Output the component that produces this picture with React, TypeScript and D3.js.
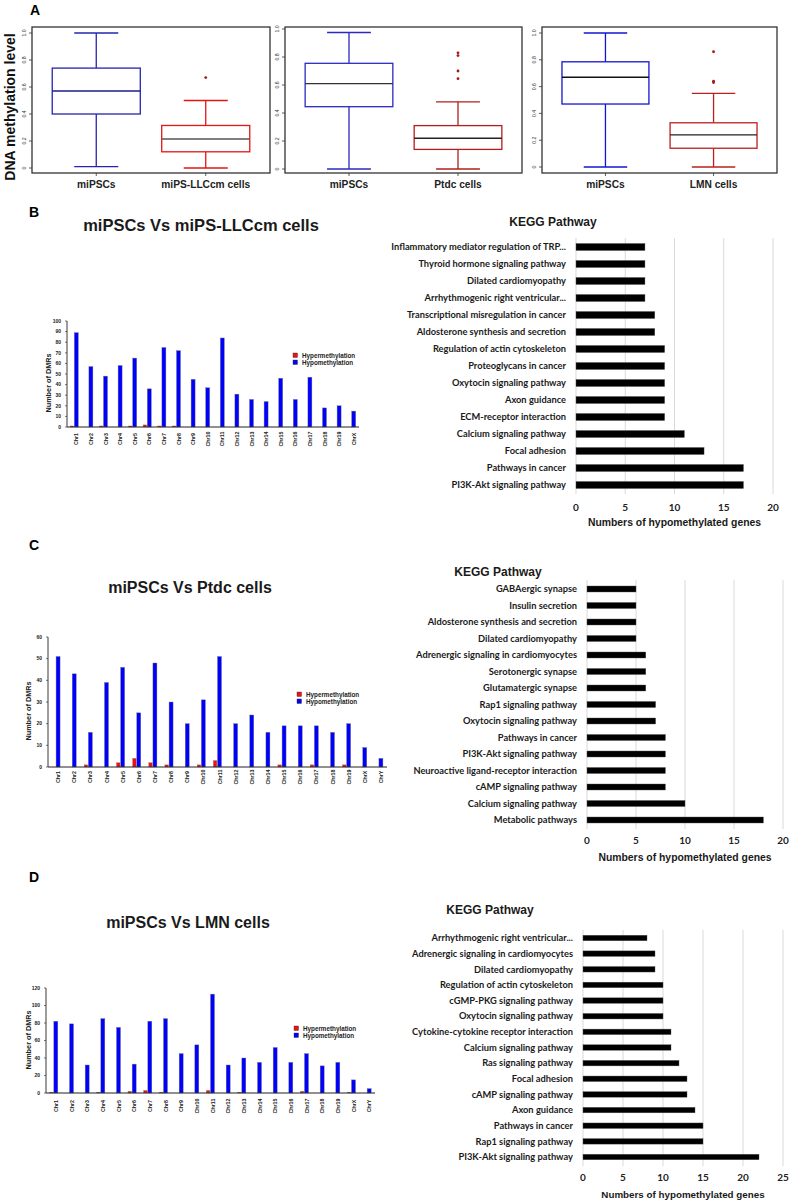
import React from "react";
import * as d3 from "d3";

// ---------- Panel A data ----------
const boxCats1 = ["miPSCs", "miPS-LLCcm cells"];
const boxCats2 = ["miPSCs", "Ptdc cells"];
const boxCats3 = ["miPSCs", "LMN cells"];
// [min, q1, median, q3, max]
const boxStats1 = [[0.01, 0.40, 0.57, 0.74, 1.0], [0.0, 0.12, 0.215, 0.315, 0.50]];
const boxStats2 = [[0.0, 0.445, 0.61, 0.755, 0.975], [0.0, 0.14, 0.22, 0.31, 0.48]];
const boxStats3 = [[0.0, 0.47, 0.67, 0.785, 1.0], [0.0, 0.14, 0.24, 0.33, 0.55]];
const outliers1 = [[], [0.67]];
const outliers2 = [[], [0.83, 0.81, 0.70, 0.645]];
const outliers3 = [[], [0.86, 0.64, 0.63]];
const boxTicks = [0, 0.2, 0.4, 0.6, 0.8, 1.0];
const boxTickLabels = ["0", "0.2", "0.4", "0.6", "0.8", "1.0"];

// ---------- DMR data ----------
const chrB = ["Chr1","Chr2","Chr3","Chr4","Chr5","Chr6","Chr7","Chr8","Chr9","Chr10","Chr11","Chr12","Chr13","Chr14","Chr15","Chr16","Chr17","Chr18","Chr19","ChrX"];
const hyperB = [1,0,1,0,1,2,1,1,0,0,0,0,0,0,0,0,0,0,0,0];
const hypoB = [89,57,48,58,65,36,75,72,45,37,84,31,26,24,46,26,47,18,20,15];
const yTicksB = [0,10,20,30,40,50,60,70,80,90,100];

const chrC = ["Chr1","Chr2","Chr3","Chr4","Chr5","Chr6","Chr7","Chr8","Chr9","Chr10","Chr11","Chr12","Chr13","Chr14","Chr15","Chr16","Chr17","Chr18","Chr19","ChrX","ChrY"];
const hyperC = [0,0,1,0,2,4,2,1,0,1,3,0,0,0,1,0,1,0,1,0,0];
const hypoC = [51,43,16,39,46,25,48,30,20,31,51,20,24,16,19,19,19,16,20,9,4];
const yTicksC = [0,10,20,30,40,50,60];

const chrD = ["Chr1","Chr2","Chr3","Chr4","Chr5","Chr6","Chr7","Chr8","Chr9","Chr10","Chr11","Chr12","Chr13","Chr14","Chr15","Chr16","Chr17","Chr18","Chr19","ChrX","ChrY"];
const hyperD = [1,0,0,1,0,2,3,1,0,0,3,0,1,0,0,0,2,0,0,1,0];
const hypoD = [82,79,32,85,75,33,82,85,45,55,113,32,40,35,52,35,45,31,35,15,5];
const yTicksD = [0,20,40,60,80,100,120];

// ---------- KEGG data ----------
const keggB = ["Inflammatory mediator regulation of TRP...","Thyroid hormone signaling pathway","Dilated cardiomyopathy","Arrhythmogenic right ventricular...","Transcriptional misregulation in cancer","Aldosterone synthesis and secretion","Regulation of actin cytoskeleton","Proteoglycans in cancer","Oxytocin signaling pathway","Axon guidance","ECM-receptor interaction","Calcium signaling pathway","Focal adhesion","Pathways in cancer","PI3K-Akt signaling pathway"];
const keggBValues = [7,7,7,7,8,8,9,9,9,9,9,11,13,17,17];
const keggBTicks = [0,5,10,15,20];

const keggC = ["GABAergic synapse","Insulin secretion","Aldosterone synthesis and secretion","Dilated cardiomyopathy","Adrenergic signaling in cardiomyocytes","Serotonergic synapse","Glutamatergic synapse","Rap1 signaling pathway","Oxytocin signaling pathway","Pathways in cancer","PI3K-Akt signaling pathway","Neuroactive ligand-receptor interaction","cAMP signaling pathway","Calcium signaling pathway","Metabolic pathways"];
const keggCValues = [5,5,5,5,6,6,6,7,7,8,8,8,8,10,18];
const keggCTicks = [0,5,10,15,20];

const keggD = ["Arrhythmogenic right ventricular...","Adrenergic signaling in cardiomyocytes","Dilated cardiomyopathy","Regulation of actin cytoskeleton","cGMP-PKG signaling pathway","Oxytocin signaling pathway","Cytokine-cytokine receptor interaction","Calcium signaling pathway","Ras signaling pathway","Focal adhesion","cAMP signaling pathway","Axon guidance","Pathways in cancer","Rap1 signaling pathway","PI3K-Akt signaling pathway"];
const keggDValues = [8,9,9,10,10,10,11,11,12,13,13,14,15,15,22];
const keggDTicks = [0,5,10,15,20,25];

const ARIAL = "'Liberation Sans', Arial, sans-serif";
const CAL = "Lato, 'Open Sans', sans-serif";

function BoxPlot(p: any) {
  const { x0, x1, top, bottom, y0, y1, cats, stats, outs, boxColors, medColors } = p;
  const x = d3.scalePoint<string>().domain(cats).range([x0, x1]).padding(0.587);
  const y = d3.scaleLinear().domain([0, 1]).range([y0, y1]);
  const bw = (x1 - x0) * 0.37;
  return (
    <g>
      {boxTicks.map((t, i) => (
        <g key={i}>
          <line x1={x0 - 3} x2={x0} y1={y(t)} y2={y(t)} stroke="#333" strokeWidth={0.8} />
          <text transform={`translate(${x0 - 6},${y(t)}) rotate(-90)`} textAnchor="middle" fontSize={5.2} fontFamily={ARIAL} fill="#333">{boxTickLabels[i]}</text>
        </g>
      ))}
      {cats.map((c: string, i: number) => {
        const cx = x(c) as number;
        const [mn, q1, md, q3, mx] = stats[i];
        const col = boxColors[i];
        return (
          <g key={c}>
            <line x1={cx} x2={cx} y1={y(mx)} y2={y(q3)} stroke={col} strokeWidth={1.3} />
            <line x1={cx} x2={cx} y1={y(q1)} y2={y(mn)} stroke={col} strokeWidth={1.3} />
            <line x1={cx - bw / 4} x2={cx + bw / 4} y1={y(mx)} y2={y(mx)} stroke={col} strokeWidth={1.3} />
            <line x1={cx - bw / 4} x2={cx + bw / 4} y1={y(mn)} y2={y(mn)} stroke={col} strokeWidth={1.3} />
            <rect x={cx - bw / 2} y={y(q3)} width={bw} height={y(q1) - y(q3)} fill="#fff" stroke={col} strokeWidth={1.3} />
            <line x1={cx - bw / 2} x2={cx + bw / 2} y1={y(md)} y2={y(md)} stroke={medColors[i]} strokeWidth={1.4} />
            {outs[i].map((o: number, j: number) => (
              <circle key={j} cx={cx} cy={y(o)} r={1.4} fill="#a31818" />
            ))}
            <line x1={cx} x2={cx} y1={bottom} y2={bottom + 3} stroke="#333" strokeWidth={0.8} />
            <text x={cx} y={188} textAnchor="middle" fontSize={10.2} fontWeight="bold" fontFamily={ARIAL} fill="#222">{c}</text>
          </g>
        );
      })}
      <rect x={x0} y={top} width={x1 - x0} height={bottom - top} fill="none" stroke="#333" strokeWidth={1.3} />
    </g>
  );
}

function DmrChart(p: any) {
  const { axisX, rightX, yBase, yTopPx, maxV, ticks, cats, hyper, hypo, labY, ylabX, ylabY, legX, legY } = p;
  const x = d3.scaleBand<string>().domain(cats).range([axisX, rightX]);
  const y = d3.scaleLinear().domain([0, maxV]).range([yBase, yTopPx]);
  return (
    <g>
      {cats.map((c: string, i: number) => {
        const cx = (x(c) as number) + x.bandwidth() / 2;
        return (
          <g key={c}>
            {hyper[i] > 0 && (
              <rect x={cx - 4.2} y={y(hyper[i])} width={3.6} height={yBase - y(hyper[i])} fill="#ee1111" stroke="#888" strokeWidth={0.3} />
            )}
            <rect x={cx} y={y(hypo[i])} width={4} height={yBase - y(hypo[i])} fill="#0000ff" stroke="#777" strokeWidth={0.4} />
            <text transform={`translate(${cx + 2},${labY}) rotate(-90)`} textAnchor="middle" dominantBaseline="central" fontSize={5.3} fontWeight="bold" fontFamily={ARIAL} fill="#222">{c}</text>
          </g>
        );
      })}
      <line x1={axisX} x2={axisX} y1={yBase} y2={yTopPx} stroke="#222" strokeWidth={0.9} />
      <line x1={axisX} x2={rightX} y1={yBase} y2={yBase} stroke="#222" strokeWidth={1.1} />
      {ticks.map((t: number) => (
        <g key={t}>
          <line x1={axisX - 2} x2={axisX} y1={y(t)} y2={y(t)} stroke="#222" strokeWidth={0.6} />
          <text x={axisX - 6} y={y(t)} dy="0.35em" textAnchor="end" fontSize={5} fontWeight="bold" fontFamily={ARIAL} fill="#222">{t}</text>
        </g>
      ))}
      <text transform={`translate(${ylabX},${ylabY}) rotate(-90)`} textAnchor="middle" fontSize={7.3} fontWeight="bold" fontFamily={ARIAL} fill="#222">Number of DMRs</text>
      <rect x={legX} y={legY} width={4.5} height={4.5} fill="#ee1111" stroke="#333" strokeWidth={0.4} />
      <rect x={legX} y={legY + 7} width={4.5} height={4.5} fill="#0000ff" stroke="#333" strokeWidth={0.4} />
      <text x={legX + 9} y={legY + 4.5} fontSize={6.3} fontWeight="bold" fontFamily={ARIAL} fill="#222">Hypermethylation</text>
      <text x={legX + 9} y={legY + 11.5} fontSize={6.3} fontWeight="bold" fontFamily={ARIAL} fill="#222">Hypomethylation</text>
    </g>
  );
}

function KeggChart(p: any) {
  const { x0, x1, maxV, rowTop, rowBottom, gridTop, gridBottom, labels, values, ticks, barH, tickY, titleY, titleSize } = p;
  const x = d3.scaleLinear().domain([0, maxV]).range([x0, x1]);
  const y = d3.scalePoint<string>().domain(labels).range([rowTop, rowBottom]);
  return (
    <g>
      {ticks.map((t: number) => (
        <g key={t}>
          <line x1={x(t)} x2={x(t)} y1={gridTop} y2={gridBottom} stroke="#d9d9d9" strokeWidth={1} />
          <text x={x(t)} y={tickY} dy="0.35em" textAnchor="middle" fontSize={10} fontWeight="bold" fontFamily={CAL} fill="#222">{t}</text>
        </g>
      ))}
      {labels.map((l: string, i: number) => (
        <g key={l}>
          <rect x={x0} y={(y(l) as number) - barH / 2} width={x(values[i]) - x0} height={barH} fill="#000" stroke="#555" strokeWidth={0.4} />
          <text x={x0 - 10} y={y(l) as number} dy="0.35em" textAnchor="end" fontSize={9.3} fontWeight="bold" fontFamily={CAL} fill="#1a1a1a">{l}</text>
        </g>
      ))}
      <text x={(x0 + x(ticks[ticks.length - 1])) / 2} y={titleY} dy="0.35em" textAnchor="middle" fontSize={titleSize} fontWeight="bold" fontFamily={ARIAL} fill="#1a1a1a">Numbers of hypomethylated genes</text>
    </g>
  );
}

export default function App() {
  return (
    <svg width={790} height={1202} style={{ position: "absolute", left: 0, top: 0, background: "#fff" }}>
      <rect width={790} height={1202} fill="#fff" />
      {/* Panel A */}
      <text x={30} y={15} fontSize={14} fontWeight="bold" fontFamily={ARIAL}>A</text>
      <text transform="translate(15,107) rotate(-90)" textAnchor="middle" fontSize={14} fontWeight="bold" fontFamily={ARIAL} fill="#111">DNA methylation level</text>
      <BoxPlot x0={32} x1={270} top={27} bottom={173} y0={168} y1={33} cats={boxCats1} stats={boxStats1} outs={outliers1} boxColors={["#2424b0", "#e31515"]} medColors={["#1c1c8c", "#555"]} />
      <BoxPlot x0={285} x1={522} top={27} bottom={173} y0={169} y1={29} cats={boxCats2} stats={boxStats2} outs={outliers2} boxColors={["#2a2ac0", "#b21e1e"]} medColors={["#333", "#222"]} />
      <BoxPlot x0={542} x1={777} top={27} bottom={173} y0={167} y1={33} cats={boxCats3} stats={boxStats3} outs={outliers3} boxColors={["#1414d4", "#bb2020"]} medColors={["#111", "#222"]} />

      {/* Panel B */}
      <text x={29} y={217} fontSize={14} fontWeight="bold" fontFamily={ARIAL}>B</text>
      <text x={201} y={231} textAnchor="middle" fontSize={16.5} fontWeight="bold" fontFamily={ARIAL} fill="#1a1a1a">miPSCs Vs miPS-LLCcm cells</text>
      <text x={553} y={226} textAnchor="middle" fontSize={12} fontWeight="bold" fontFamily={ARIAL} fill="#1a1a1a">KEGG Pathway</text>
      <DmrChart axisX={67} rightX={359} yBase={427} yTopPx={321} maxV={100} ticks={yTicksB} cats={chrB} hyper={hyperB} hypo={hypoB} labY={439} ylabX={51} ylabY={383} legX={293} legY={353} />
      <KeggChart x0={576} x1={773} maxV={20} rowTop={247} rowBottom={485} gridTop={238} gridBottom={494} labels={keggB} values={keggBValues} ticks={keggBTicks} barH={7} tickY={507} titleY={522} titleSize={10.4} />

      {/* Panel C */}
      <text x={29} y={550} fontSize={14} fontWeight="bold" fontFamily={ARIAL}>C</text>
      <text x={190} y={593} textAnchor="middle" fontSize={16} fontWeight="bold" fontFamily={ARIAL} fill="#1a1a1a">miPSCs Vs Ptdc cells</text>
      <text x={498} y={576} textAnchor="middle" fontSize={12} fontWeight="bold" fontFamily={ARIAL} fill="#1a1a1a">KEGG Pathway</text>
      <DmrChart axisX={48} rightX={387} yBase={767} yTopPx={637} maxV={60} ticks={yTicksC} cats={chrC} hyper={hyperC} hypo={hypoC} labY={777} ylabX={31} ylabY={711} legX={297} legY={692} />
      <KeggChart x0={587} x1={783} maxV={20} rowTop={589} rowBottom={820} gridTop={580} gridBottom={829} labels={keggC} values={keggCValues} ticks={keggCTicks} barH={6} tickY={840} titleY={857} titleSize={10.4} />

      {/* Panel D */}
      <text x={29} y={882} fontSize={14} fontWeight="bold" fontFamily={ARIAL}>D</text>
      <text x={188} y={928} textAnchor="middle" fontSize={16} fontWeight="bold" fontFamily={ARIAL} fill="#1a1a1a">miPSCs Vs LMN cells</text>
      <text x={490} y={914} textAnchor="middle" fontSize={12} fontWeight="bold" fontFamily={ARIAL} fill="#1a1a1a">KEGG Pathway</text>
      <DmrChart axisX={46} rightX={375} yBase={1093} yTopPx={988} maxV={120} ticks={yTicksD} cats={chrD} hyper={hyperD} hypo={hypoD} labY={1106} ylabX={31} ylabY={1040} legX={294} legY={1026} />
      <KeggChart x0={583} x1={783} maxV={25} rowTop={938} rowBottom={1157} gridTop={930} gridBottom={1166} labels={keggD} values={keggDValues} ticks={keggDTicks} barH={5.5} tickY={1177} titleY={1195} titleSize={9.8} />
    </svg>
  );
}
